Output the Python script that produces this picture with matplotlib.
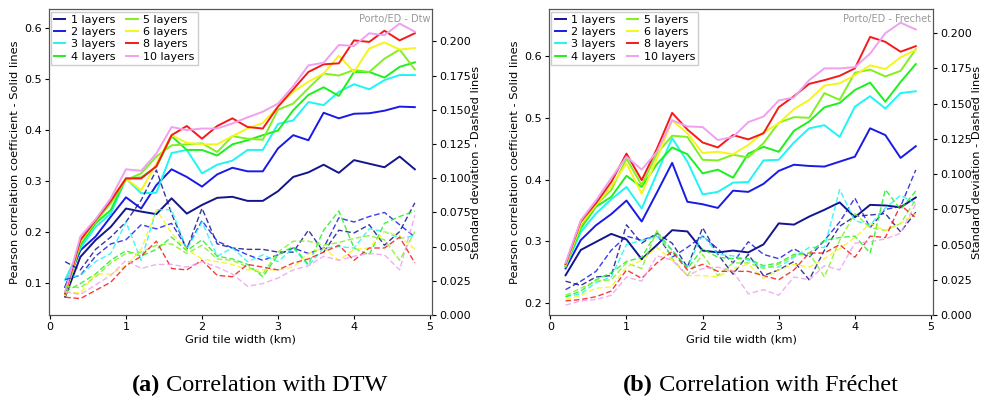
import matplotlib
matplotlib.use("Agg")
import matplotlib.pyplot as plt
import numpy as np

x_km = [round(0.2 * i, 1) for i in range(1, 25)]
layer_labels = ["1 layers", "2 layers", "3 layers", "4 layers", "5 layers", "6 layers", "8 layers", "10 layers"]
layer_colors = ["#14148c", "#1a1ae6", "#1ff5f5", "#1ef01e", "#80f020", "#f5f51a", "#f51a1a", "#f0a0f0"]

# ---- (a) DTW : Pearson correlation (solid) ----
dtw_corr = [
    [0.073, 0.151, 0.184, 0.210, 0.246, 0.240, 0.235, 0.266, 0.236, 0.253, 0.267, 0.269, 0.261, 0.261, 0.280, 0.308, 0.317, 0.332, 0.316, 0.341, 0.334, 0.327, 0.348, 0.323],
    [0.092, 0.164, 0.191, 0.230, 0.268, 0.246, 0.292, 0.323, 0.308, 0.289, 0.313, 0.326, 0.319, 0.319, 0.364, 0.390, 0.380, 0.434, 0.423, 0.432, 0.433, 0.438, 0.446, 0.445],
    [0.106, 0.168, 0.210, 0.236, 0.305, 0.276, 0.277, 0.355, 0.361, 0.315, 0.332, 0.340, 0.361, 0.361, 0.412, 0.419, 0.455, 0.449, 0.475, 0.490, 0.480, 0.498, 0.508, 0.508],
    [0.076, 0.174, 0.217, 0.243, 0.305, 0.307, 0.328, 0.388, 0.361, 0.361, 0.350, 0.372, 0.380, 0.390, 0.399, 0.439, 0.469, 0.484, 0.467, 0.514, 0.514, 0.503, 0.524, 0.533],
    [0.079, 0.181, 0.220, 0.256, 0.302, 0.315, 0.348, 0.370, 0.372, 0.374, 0.357, 0.388, 0.383, 0.381, 0.440, 0.452, 0.482, 0.511, 0.507, 0.518, 0.514, 0.540, 0.558, 0.519],
    [0.076, 0.181, 0.223, 0.263, 0.305, 0.282, 0.334, 0.390, 0.375, 0.372, 0.372, 0.388, 0.403, 0.414, 0.446, 0.475, 0.495, 0.511, 0.546, 0.514, 0.560, 0.572, 0.558, 0.561],
    [0.079, 0.184, 0.223, 0.261, 0.305, 0.305, 0.329, 0.390, 0.408, 0.383, 0.408, 0.423, 0.406, 0.403, 0.446, 0.480, 0.514, 0.529, 0.531, 0.576, 0.573, 0.595, 0.576, 0.590],
    [0.083, 0.191, 0.225, 0.266, 0.323, 0.320, 0.354, 0.406, 0.400, 0.403, 0.403, 0.413, 0.425, 0.436, 0.452, 0.486, 0.527, 0.532, 0.567, 0.565, 0.590, 0.586, 0.609, 0.593],
]
# ---- (a) DTW : standard deviation (dashed) ----
dtw_std = [
    [0.039, 0.033, 0.048, 0.057, 0.068, 0.084, 0.106, 0.074, 0.048, 0.078, 0.052, 0.049, 0.048, 0.048, 0.046, 0.046, 0.062, 0.046, 0.062, 0.060, 0.066, 0.051, 0.061, 0.082],
    [0.026, 0.029, 0.043, 0.052, 0.055, 0.066, 0.063, 0.067, 0.049, 0.069, 0.054, 0.049, 0.044, 0.040, 0.044, 0.049, 0.045, 0.049, 0.071, 0.068, 0.072, 0.075, 0.066, 0.057],
    [0.027, 0.029, 0.039, 0.045, 0.068, 0.040, 0.077, 0.077, 0.048, 0.068, 0.043, 0.049, 0.039, 0.044, 0.039, 0.049, 0.036, 0.049, 0.050, 0.049, 0.063, 0.061, 0.056, 0.058],
    [0.017, 0.023, 0.030, 0.040, 0.047, 0.043, 0.048, 0.057, 0.047, 0.055, 0.043, 0.041, 0.037, 0.028, 0.044, 0.050, 0.037, 0.062, 0.076, 0.049, 0.044, 0.067, 0.072, 0.076],
    [0.021, 0.020, 0.028, 0.038, 0.045, 0.046, 0.051, 0.052, 0.045, 0.051, 0.041, 0.040, 0.035, 0.030, 0.046, 0.054, 0.054, 0.051, 0.053, 0.056, 0.058, 0.055, 0.040, 0.061],
    [0.017, 0.016, 0.030, 0.030, 0.036, 0.048, 0.077, 0.060, 0.048, 0.041, 0.039, 0.037, 0.033, 0.033, 0.033, 0.035, 0.045, 0.049, 0.040, 0.048, 0.049, 0.061, 0.058, 0.048],
    [0.013, 0.012, 0.018, 0.024, 0.036, 0.043, 0.054, 0.034, 0.033, 0.040, 0.029, 0.028, 0.037, 0.035, 0.033, 0.038, 0.041, 0.046, 0.051, 0.040, 0.049, 0.049, 0.057, 0.038],
    [0.017, 0.015, 0.022, 0.029, 0.040, 0.034, 0.037, 0.037, 0.035, 0.039, 0.035, 0.030, 0.021, 0.023, 0.027, 0.033, 0.036, 0.043, 0.040, 0.043, 0.045, 0.044, 0.033, 0.073],
]
# ---- (b) Frechet : Pearson correlation (solid) ----
fre_corr = [
    [0.245, 0.286, 0.299, 0.312, 0.303, 0.271, 0.294, 0.318, 0.316, 0.285, 0.282, 0.285, 0.282, 0.295, 0.329, 0.327, 0.340, 0.351, 0.363, 0.339, 0.359, 0.358, 0.355, 0.371],
    [0.256, 0.302, 0.326, 0.344, 0.366, 0.332, 0.379, 0.427, 0.364, 0.360, 0.354, 0.382, 0.380, 0.393, 0.414, 0.424, 0.422, 0.421, 0.429, 0.437, 0.483, 0.472, 0.435, 0.454],
    [0.259, 0.315, 0.345, 0.368, 0.388, 0.353, 0.410, 0.467, 0.429, 0.376, 0.380, 0.395, 0.396, 0.431, 0.432, 0.460, 0.483, 0.488, 0.469, 0.518, 0.535, 0.515, 0.540, 0.543],
    [0.260, 0.321, 0.356, 0.372, 0.406, 0.388, 0.425, 0.452, 0.441, 0.410, 0.416, 0.403, 0.442, 0.453, 0.445, 0.479, 0.494, 0.517, 0.524, 0.545, 0.557, 0.526, 0.558, 0.587],
    [0.261, 0.325, 0.359, 0.383, 0.434, 0.391, 0.442, 0.471, 0.469, 0.432, 0.431, 0.440, 0.436, 0.459, 0.492, 0.501, 0.500, 0.540, 0.529, 0.573, 0.578, 0.567, 0.576, 0.611],
    [0.261, 0.328, 0.359, 0.389, 0.426, 0.377, 0.434, 0.496, 0.475, 0.443, 0.445, 0.441, 0.456, 0.476, 0.491, 0.514, 0.529, 0.552, 0.556, 0.569, 0.585, 0.579, 0.598, 0.610],
    [0.263, 0.332, 0.362, 0.396, 0.442, 0.399, 0.450, 0.508, 0.481, 0.460, 0.452, 0.472, 0.465, 0.475, 0.517, 0.535, 0.555, 0.561, 0.568, 0.580, 0.631, 0.623, 0.607, 0.616],
    [0.265, 0.334, 0.366, 0.402, 0.437, 0.416, 0.445, 0.496, 0.486, 0.485, 0.464, 0.469, 0.493, 0.502, 0.528, 0.533, 0.561, 0.580, 0.580, 0.582, 0.604, 0.637, 0.654, 0.643],
]
# ---- (b) Frechet : standard deviation (dashed) ----
fre_std = [
    [0.024, 0.021, 0.027, 0.028, 0.064, 0.051, 0.058, 0.051, 0.034, 0.062, 0.043, 0.029, 0.043, 0.028, 0.032, 0.038, 0.025, 0.046, 0.063, 0.070, 0.071, 0.072, 0.059, 0.073],
    [0.018, 0.024, 0.031, 0.046, 0.056, 0.053, 0.057, 0.041, 0.048, 0.056, 0.047, 0.037, 0.052, 0.043, 0.040, 0.047, 0.041, 0.053, 0.066, 0.083, 0.062, 0.075, 0.077, 0.103],
    [0.013, 0.015, 0.023, 0.027, 0.050, 0.053, 0.056, 0.046, 0.034, 0.057, 0.043, 0.042, 0.039, 0.034, 0.034, 0.041, 0.048, 0.048, 0.089, 0.067, 0.064, 0.076, 0.085, 0.079],
    [0.013, 0.017, 0.025, 0.030, 0.038, 0.041, 0.059, 0.046, 0.033, 0.047, 0.041, 0.040, 0.040, 0.035, 0.037, 0.043, 0.044, 0.053, 0.055, 0.056, 0.044, 0.089, 0.075, 0.088],
    [0.014, 0.019, 0.024, 0.025, 0.037, 0.033, 0.060, 0.040, 0.028, 0.043, 0.028, 0.037, 0.037, 0.033, 0.036, 0.042, 0.044, 0.027, 0.053, 0.072, 0.062, 0.060, 0.065, 0.082],
    [0.011, 0.014, 0.019, 0.020, 0.034, 0.039, 0.048, 0.039, 0.028, 0.028, 0.027, 0.033, 0.036, 0.026, 0.032, 0.036, 0.034, 0.040, 0.047, 0.055, 0.065, 0.060, 0.065, 0.072],
    [0.010, 0.011, 0.013, 0.017, 0.032, 0.026, 0.037, 0.045, 0.032, 0.036, 0.031, 0.031, 0.031, 0.028, 0.025, 0.032, 0.044, 0.044, 0.050, 0.041, 0.056, 0.055, 0.078, 0.069],
    [0.007, 0.010, 0.011, 0.014, 0.027, 0.024, 0.042, 0.039, 0.028, 0.033, 0.034, 0.031, 0.015, 0.018, 0.014, 0.027, 0.025, 0.035, 0.032, 0.051, 0.052, 0.054, 0.058, 0.079],
]

x_ticks = [0, 1, 2, 3, 4, 5]
std_ticks = [0.0, 0.025, 0.05, 0.075, 0.1, 0.125, 0.15, 0.175, 0.2]

panels = [
    dict(corr=dtw_corr, std=dtw_std, tag="Porto/ED - Dtw", ylim=(0.037, 0.637), yticks=[0.1, 0.2, 0.3, 0.4, 0.5, 0.6],
         y2lim=(0.0, 0.2235), rect=[0.0494, 0.2045, 0.3892, 0.772], cap_b="(a)", cap_t=" Correlation with DTW",
         cap_x=259),
    dict(corr=fre_corr, std=fre_std, tag="Porto/ED - Frechet", ylim=(0.1806, 0.6757), yticks=[0.2, 0.3, 0.4, 0.5, 0.6],
         y2lim=(0.0, 0.217), rect=[0.5574, 0.2045, 0.3898, 0.772], cap_b="(b)", cap_t=" Correlation with Fréchet",
         cap_x=760),
]

fig = plt.figure(figsize=(9.85, 3.96), dpi=100)
tick_fs = 8
lab_fs = 8.2
cap_fs = 17.5
cap_y = 0.012
for p in panels:
    ax = fig.add_axes(p["rect"])
    ax2 = ax.twinx()
    handles = []
    for lab, col, yc, ys in zip(layer_labels, layer_colors, p["corr"], p["std"]):
        h, = ax.plot(x_km, yc, color=col, lw=1.4, label=lab)
        handles.append(h)
        ax2.plot(x_km, ys, color=col, lw=1.0, ls=(0, (4, 2)), alpha=0.85)
    ax.set_xlim(-0.017, 5.026)
    ax.set_ylim(*p["ylim"])
    ax.set_yticks(p["yticks"])
    ax.set_xticks(x_ticks)
    ax2.set_ylim(*p["y2lim"])
    ax2.set_yticks(std_ticks)
    ax2.set_yticklabels([f"{t:.3f}" for t in std_ticks])
    ax.tick_params(labelsize=tick_fs, length=3, pad=2)
    ax2.tick_params(labelsize=tick_fs, length=3, pad=2)
    ax.set_xlabel("Grid tile width (km)", fontsize=lab_fs, labelpad=2)
    ax.set_ylabel("Pearson correlation coefficient - Solid lines", fontsize=lab_fs, labelpad=3)
    ax2.set_ylabel("Standard deviation - Dashed lines", fontsize=lab_fs, labelpad=0.5)
    for a in (ax, ax2):
        for s in a.spines.values():
            s.set_color("#555555")
    ax2.legend(handles=handles, loc="upper left", ncol=2, fontsize=8, handlelength=1.0,
               handletextpad=0.5, columnspacing=1.0, labelspacing=0.2, borderpad=0.3,
               borderaxespad=0.2, framealpha=1.0, fancybox=False, edgecolor="#cccccc")
    ax2.text(0.995, 0.985, p["tag"], transform=ax2.transAxes, ha="right", va="top",
             fontsize=7, color="#999999")
    # caption: bold "(x)" + regular text, centered at cap_x
    W = fig.bbox.width
    t1 = fig.text(p["cap_x"] / W, cap_y, p["cap_b"] + p["cap_t"], ha="center", va="baseline",
                  fontsize=cap_fs, family="Liberation Serif", color="white")
    fig.canvas.draw()
    bb = t1.get_window_extent()
    t1.remove()
    tb = fig.text(bb.x0 / W, cap_y, p["cap_b"], ha="left", va="baseline",
                  fontsize=cap_fs, family="Liberation Serif", fontweight="bold")
    fig.canvas.draw()
    bb2 = tb.get_window_extent()
    fig.text(bb2.x1 / W, cap_y, p["cap_t"], ha="left", va="baseline",
             fontsize=cap_fs, family="Liberation Serif")

fig.savefig("out.png", dpi=100)
